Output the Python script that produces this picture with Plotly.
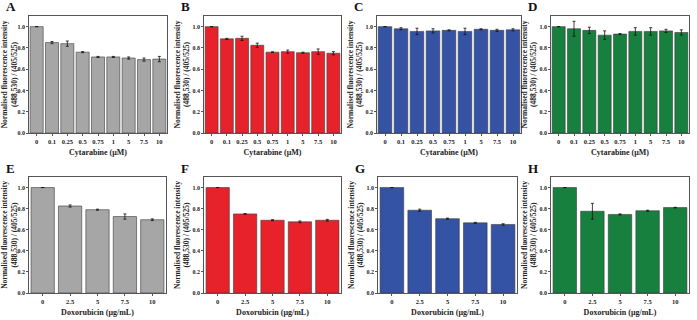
import plotly.graph_objects as go

cyt_labels = ["0", "0.1", "0.25", "0.5", "0.75", "1", "5", "7.5", "10"]
dox_labels = ["0", "2.5", "5", "7.5", "10"]

A_vals = [1.0, 0.85, 0.84, 0.76, 0.715, 0.715, 0.705, 0.69, 0.695]
A_err = [0, 0.01, 0.025, 0.005, 0.005, 0.005, 0.01, 0.015, 0.025]
B_vals = [1.0, 0.885, 0.89, 0.825, 0.76, 0.765, 0.755, 0.765, 0.75]
B_err = [0, 0.005, 0.02, 0.02, 0.003, 0.015, 0.005, 0.025, 0.015]
C_vals = [1.0, 0.98, 0.955, 0.96, 0.965, 0.955, 0.975, 0.965, 0.97]
C_err = [0, 0.01, 0.03, 0.02, 0.005, 0.03, 0.005, 0.01, 0.01]
D_vals = [1.0, 0.98, 0.965, 0.92, 0.93, 0.955, 0.955, 0.96, 0.945]
D_err = [0, 0.07, 0.03, 0.04, 0.005, 0.035, 0.035, 0.015, 0.025]
E_vals = [1.0, 0.825, 0.79, 0.725, 0.695]
E_err = [0, 0.01, 0.005, 0.025, 0.008]
F_vals = [1.0, 0.75, 0.69, 0.675, 0.69]
F_err = [0, 0.003, 0.005, 0.008, 0.008]
G_vals = [1.0, 0.785, 0.705, 0.665, 0.65]
G_err = [0, 0.01, 0.005, 0.005, 0.007]
H_vals = [1.0, 0.775, 0.745, 0.78, 0.81]
H_err = [0, 0.075, 0.005, 0.005, 0.003]

panel_letters = ["A", "B", "C", "D", "E", "F", "G", "H"]
cyt_title = "Cytarabine (μM)"
dox_title = "Doxorubicin (μg/mL)"
y_title = "Normalised fluorescence intensity<br>(488,530) / (405/525)"

GRAY = "#a6a6a6"
RED = "#e8222a"
BLUE = "#3553a4"
GREEN = "#17803f"

W, H = 697, 320
FONT = "Liberation Serif"

panels = [
    (A_vals, A_err, cyt_labels, cyt_title, GRAY, (29, 167, 16, 133)),
    (B_vals, B_err, cyt_labels, cyt_title, RED, (204, 341, 16, 133)),
    (C_vals, C_err, cyt_labels, cyt_title, BLUE, (377, 521, 16, 133)),
    (D_vals, D_err, cyt_labels, cyt_title, GREEN, (551, 689, 16, 133)),
    (E_vals, E_err, dox_labels, dox_title, GRAY, (29, 166, 177, 293)),
    (F_vals, F_err, dox_labels, dox_title, RED, (204, 341, 177, 293)),
    (G_vals, G_err, dox_labels, dox_title, BLUE, (378, 517, 177, 293)),
    (H_vals, H_err, dox_labels, dox_title, GREEN, (551, 689, 177, 293)),
]

fig = go.Figure()
annotations = []
layout = {}
for i, (vals, err, labels, xt, color, (l, r, t, b)) in enumerate(panels):
    n = "" if i == 0 else str(i + 1)
    fig.add_trace(go.Bar(
        x=labels, y=vals, xaxis="x" + n, yaxis="y" + n,
        marker=dict(color=color, line=dict(color="#3a3a3a", width=0.6)),
        error_y=dict(type="data", array=err, color="#111111", thickness=0.8, width=1.5),
        width=0.85, showlegend=False,
    ))
    layout["xaxis" + n] = dict(
        domain=[l / W, r / W], anchor="y" + n, type="category",
        range=[-0.5, len(labels) - 0.5], automargin=False,
        showline=True, mirror=True, linecolor="#555555", linewidth=0.8,
        ticks="outside", ticklen=2, tickcolor="#555555", tickwidth=0.8,
        tickfont=dict(family=FONT, size=6.5, color="#222222", weight="bold"),
        title=dict(text="<b>" + xt + "</b>", font=dict(family=FONT, size=8, color="#222222"), standoff=5),
        showgrid=False, fixedrange=True,
    )
    layout["yaxis" + n] = dict(
        domain=[1 - b / H, 1 - t / H], anchor="x" + n, automargin=False,
        range=[0, 1.1], tickvals=[0, 0.2, 0.4, 0.6, 0.8, 1.0], tickformat=".1f",
        showline=True, mirror=True, linecolor="#555555", linewidth=0.8,
        ticks="outside", ticklen=2, tickcolor="#555555", tickwidth=0.8,
        tickfont=dict(family=FONT, size=6, color="#222222", weight="bold"),
        title=dict(text="<b>" + y_title + "</b>", font=dict(family=FONT, size=7.5, color="#222222"), standoff=1),
        showgrid=False, zeroline=False, fixedrange=True,
    )
    annotations.append(dict(
        text="<b>" + panel_letters[i] + "</b>", x=(l - 25) / W, y=1 - (t - 9) / H,
        xref="paper", yref="paper", xanchor="left", yanchor="middle", showarrow=False,
        font=dict(family=FONT, size=13, color="#111111"),
    ))

fig.update_layout(
    width=W, height=H, margin=dict(l=0, r=0, t=0, b=0, pad=0, autoexpand=False),
    paper_bgcolor="white", plot_bgcolor="white",
    bargap=0.15, annotations=annotations, **layout,
)
fig.write_html("out.html", config={"displayModeBar": False},
               post_script="document.body.style.margin='0';document.body.style.overflow='hidden';")
